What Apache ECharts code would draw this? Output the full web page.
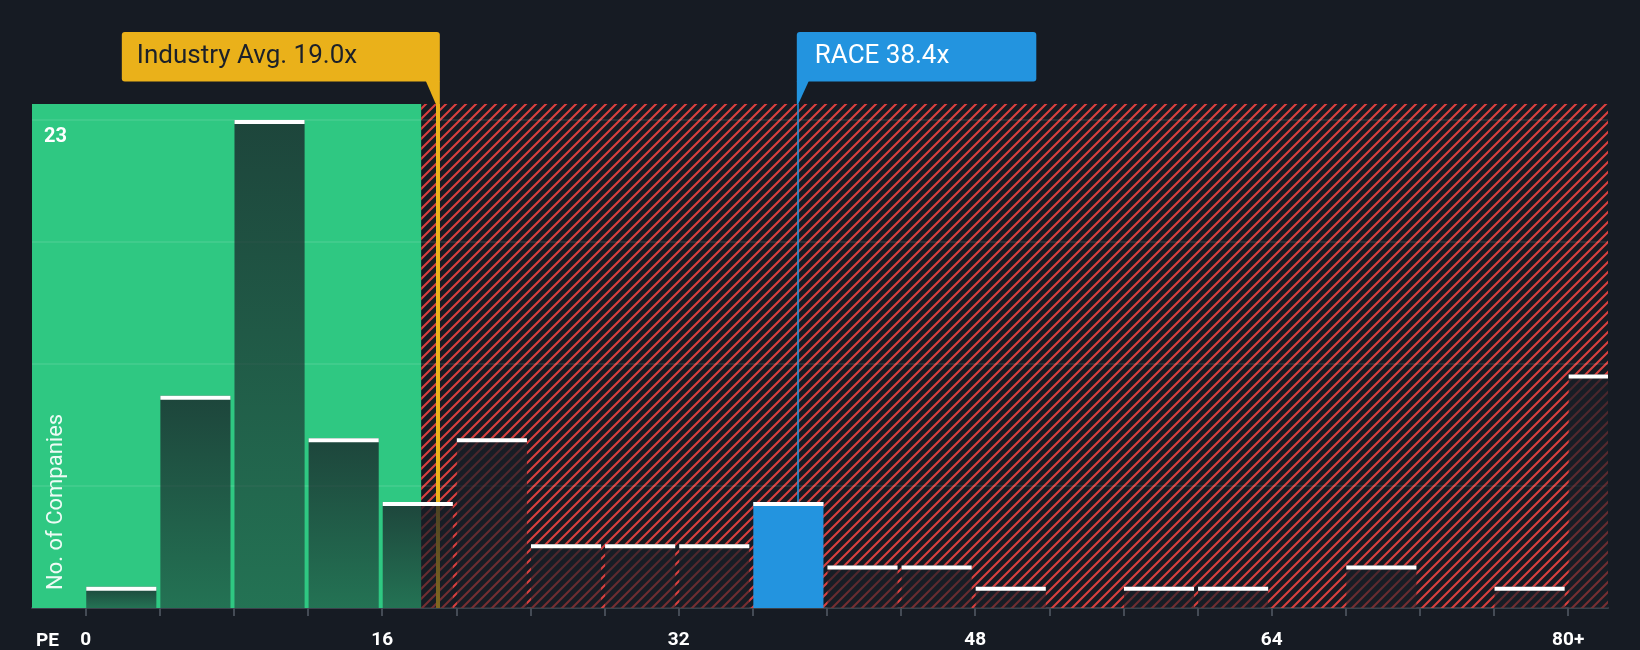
<!DOCTYPE html>
<html>
<head>
<meta charset="utf-8">
<script src="https://cdn.jsdelivr.net/npm/echarts@6/dist/echarts.min.js"></script>
<style>
html,body{margin:0;padding:0;background:#161b23;}
#chart{width:1640px;height:650px;}
</style>
</head>
<body>
<div id="chart"></div>
<script>
// ---- data ----
const binStart = [0, 4, 8, 12, 16, 20, 24, 28, 32, 36, 40, 44, 48, 52, 56, 60, 64, 68, 72, 76, 80];
const binWidth = 4;
const counts   = [1, 10, 23, 8, 5, 8, 3, 3, 3, 5, 2, 2, 1, 0, 1, 1, 0, 2, 0, 1, 11];
const xTickValues  = [0, 4, 8, 12, 16, 20, 24, 28, 32, 36, 40, 44, 48, 52, 56, 60, 64, 68, 72, 76, 80];
const xLabelValues = [0, 16, 32, 48, 64, 80];
const yGridValues  = [5.75, 11.5, 17.25, 23];
const industryAvg = 19.0;
const industryLabel = 'Industry Avg. 19.0x';
const raceValue = 38.4;
const raceLabel = 'RACE 38.4x';
const fairUpper = 18.1;   // end of green zone
const xMin = -2.9, xMax = 82.15, yMax = 23.75;

// ---- styles ----
const BG = '#161b23';
const GREEN = '#2fc882';
const BLUE = '#2394df';
const GOLD = '#eab11a';
const FONT = 'Roboto, "Noto Sans", sans-serif';

// hatch pattern (45° lines, bottom-left to top-right)
const T = 10;
const pat = document.createElement('canvas');
pat.width = T; pat.height = T;
const pc = pat.getContext('2d');
pc.strokeStyle = '#d9403f';
pc.lineWidth = 2.1;
pc.beginPath();
pc.moveTo(-2, T + 2); pc.lineTo(T + 2, -2);       // x+y = T
pc.moveTo(-3, 3); pc.lineTo(3, -3);               // x+y = 0
pc.moveTo(T - 3, T + 3); pc.lineTo(T + 3, T - 3); // x+y = 2T
pc.stroke();

const barData = counts.map((c, i) => {
  const s = binStart[i];
  const hl = (raceValue >= s && raceValue < s + binWidth) ? 1 : 0;
  return [s, s + binWidth, c, hl];
});

const barGrad = new echarts.graphic.LinearGradient(0, 0, 0, 1, [
  { offset: 0, color: 'rgba(24,30,38,0.77)' },
  { offset: 1, color: 'rgba(24,30,38,0.5)' }
]);

function renderBar(params, api) {
  const s = api.value(0), e = api.value(1), c = api.value(2), hl = api.value(3);
  if (c <= 0) return;
  const top = api.coord([s, c]);
  const bot = api.coord([e, 0]);
  const x0 = top[0] + 0.5, x1 = bot[0] - 3.5;
  const cs = params.coordSys;
  const body = echarts.graphic.clipRectByRect({ x: x0, y: top[1], width: x1 - x0, height: bot[1] - top[1] }, cs);
  const cap = echarts.graphic.clipRectByRect({ x: x0, y: top[1], width: x1 - x0, height: 4 }, cs);
  const children = [];
  if (body) children.push({ type: 'rect', shape: body, style: { fill: hl ? BLUE : barGrad } });
  if (cap) children.push({ type: 'rect', shape: cap, style: { fill: '#ffffff' } });
  return { type: 'group', children };
}

const chart = echarts.init(document.getElementById('chart'), null, { renderer: 'canvas' });

chart.setOption({
  backgroundColor: BG,
  animation: false,
  grid: { left: 32, right: 32, top: 104, bottom: 42, containLabel: false },
  xAxis: {
    type: 'value', min: xMin, max: xMax,
    splitLine: { show: false },
    axisLine: { show: true, lineStyle: { color: '#3b424c', width: 2 } },
    axisTick: { show: true, customValues: xTickValues, length: 8, lineStyle: { color: '#444b55', width: 2 } },
    axisLabel: {
      show: true, customValues: xLabelValues, color: '#ffffff', fontSize: 19, fontWeight: 'bold',
      fontFamily: FONT, margin: 23,
      formatter: v => (v === 80 ? '80+' : String(v))
    }
  },
  yAxis: {
    type: 'value', min: 0, max: yMax,
    axisLine: { show: false }, axisTick: { show: false }, axisLabel: { show: false },
    splitLine: { show: false }
  },
  series: [
    {
      type: 'line', data: [], z: 1, silent: true,
      markArea: {
        silent: true,
        data: [
          [{ xAxis: xMin, itemStyle: { color: GREEN } }, { xAxis: fairUpper }],
          [{ xAxis: fairUpper, itemStyle: { color: { image: pat, repeat: 'repeat' } } }, { xAxis: xMax }]
        ]
      }
    },
    {
      type: 'line', data: [], z: 2, silent: true,
      markLine: {
        silent: true, symbol: ['none', 'none'], label: { show: false },
        lineStyle: { color: 'rgba(255,255,255,0.11)', width: 1.5, type: 'solid' },
        data: yGridValues.map(v => ({ yAxis: v }))
      }
    },
    {
      type: 'line', data: [], z: 3, silent: true,
      markLine: {
        silent: true, symbol: ['none', 'none'], label: { show: false },
        data: [
          { xAxis: industryAvg, lineStyle: { color: GOLD, width: 4, type: 'solid' } },
          { xAxis: raceValue, lineStyle: { color: BLUE, width: 1.5, type: 'solid' } }
        ]
      }
    },
    {
      type: 'custom', z: 5, silent: true,
      renderItem: renderBar,
      encode: { x: [0, 1], y: 2 },
      data: barData
    }
  ]
});

// annotations
const indX = chart.convertToPixel({ xAxisIndex: 0 }, industryAvg);
const raceX = chart.convertToPixel({ xAxisIndex: 0 }, raceValue);
const plotTop = chart.convertToPixel({ yAxisIndex: 0 }, yMax);
const boxTop = 32, boxH = 49.5, boxBot = boxTop + boxH;
const indRight = indX + 2;
const indLeft = indRight - 318;
const raceLeft = raceX - 0.5;
const maxCount = Math.max(...counts);

chart.setOption({
  graphic: [
    { type: 'rect', shape: { x: indLeft, y: boxTop, width: 318, height: boxH, r: [3, 3, 0, 3] }, style: { fill: GOLD }, z: 10 },
    { type: 'polygon', shape: { points: [[indRight - 14, boxBot - 0.5], [indRight, boxBot - 0.5], [indRight, plotTop], [indX - 2, plotTop]] }, style: { fill: GOLD }, z: 10 },
    { type: 'text', x: indLeft + 15, y: boxTop + boxH / 2, style: { text: industryLabel, fill: '#1b202a', font: '26px ' + FONT, align: 'left', verticalAlign: 'middle' }, z: 11 },

    { type: 'rect', shape: { x: raceLeft, y: boxTop, width: 239.5, height: boxH, r: [3, 3, 3, 0] }, style: { fill: BLUE }, z: 10 },
    { type: 'polygon', shape: { points: [[raceLeft, boxBot - 0.5], [raceLeft + 12, boxBot - 0.5], [raceLeft + 1.5, plotTop], [raceLeft, plotTop]] }, style: { fill: BLUE }, z: 10 },
    { type: 'text', x: raceLeft + 18, y: boxTop + boxH / 2, style: { text: raceLabel, fill: '#ffffff', font: '26px ' + FONT, align: 'left', verticalAlign: 'middle' }, z: 11 },

    { type: 'text', x: 44, y: 137, style: { text: String(maxCount), fill: '#ffffff', font: 'bold 20px ' + FONT, align: 'left', verticalAlign: 'middle' }, z: 11 },
    { type: 'text', x: 56, y: 590, rotation: Math.PI / 2, style: { text: 'No. of Companies', fill: 'rgba(255,255,255,0.92)', font: '22px ' + FONT, align: 'left', verticalAlign: 'middle' }, z: 11 },
    { type: 'text', x: 36, y: 641, style: { text: 'PE', fill: '#ffffff', font: 'bold 19px ' + FONT, align: 'left', verticalAlign: 'middle' }, z: 11 }
  ]
});
</script>
</body>
</html>
